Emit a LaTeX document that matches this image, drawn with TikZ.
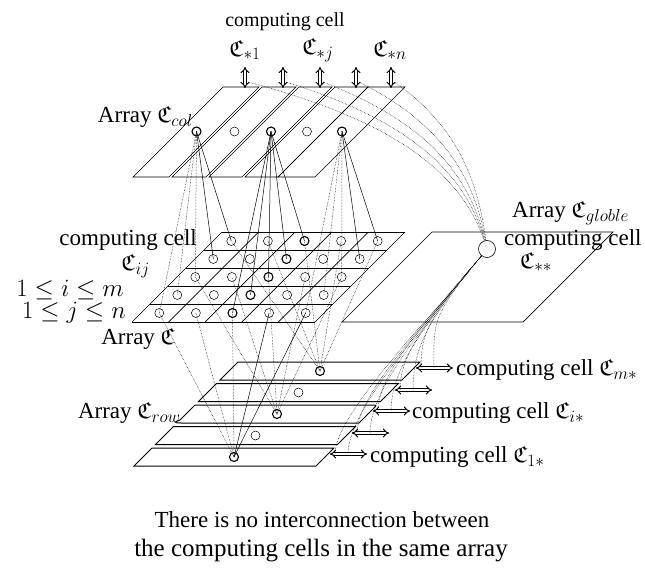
\documentclass[tikz,border=0pt]{standalone}
\usepackage{fontspec}
\setmainfont{Liberation Serif}
\usepackage{amssymb}
\usetikzlibrary{arrows.meta,calc}

\begin{document}
\begin{tikzpicture}[x=1pt,y=-1pt,
  lab/.style={inner sep=0pt, font=\fontsize{23}{25}\selectfont},
  toplab/.style={inner sep=0pt, font=\fontsize{20}{22}\selectfont},
  strip/.style={line width=0.7pt},
  rowstrip/.style={line width=1pt},
  cell/.style={circle, draw, line width=0.5pt, minimum size=9pt, inner sep=0pt},
  keycell/.style={cell, line width=1.1pt},
  bigcell/.style={circle, draw, line width=0.6pt, minimum size=17pt, inner sep=0pt},
  link/.style={line width=0.5pt},
  dlink/.style={line width=0.5pt, densely dotted},
  dualarrow/.style={double, double distance=2pt, line width=1pt, {Implies}-{Implies}},
]
\useasboundingbox (0,0) rectangle (645,569);

% ---------- column array: five slanted strips ----------
\foreach \l/\r in {223/259, 262/296, 299/332, 335/368, 368/405}
  \draw[strip] (\l,87) -- (\r,87) -- (\r-90,177) -- (\l-90,177) -- cycle;
\node[keycell] (col0) at (196.5,131.5) {};
\node[cell]    (col1) at (234.5,131.5) {};
\node[keycell] (col2) at (271,131.5) {};
\node[cell]    (col3) at (307,131.5) {};
\node[keycell] (col4) at (342,131.5) {};

% output arrows of the column cells
\foreach \j/\x in {0/245, 1/283, 2/320, 3/356, 4/391} {
  \coordinate (upa\j) at (\x,67);
  \coordinate (upb\j) at (\x,88);
  \draw[dualarrow] (upa\j) -- (upb\j);
}

% ---------- main array: 5 x 5 grid ----------
\foreach \r in {0,...,5}
  \draw[strip] (222-18*\r,232+18*\r) -- (405-18*\r,232+18*\r);
\foreach \c in {0,...,5}
  \draw[strip] (222+36.6*\c,232) -- (132+36.6*\c,322);
\foreach \c in {0,1,3,4}
  \foreach \r in {0,...,4}
    \node[cell] (g\c\r) at (231.3+36.6*\c-18*\r, 241+18*\r) {};
\foreach \r in {0,...,4}
  \node[keycell] (g2\r) at (231.3+73.2-18*\r, 241+18*\r) {};

% ---------- global array ----------
\draw[strip] (432,232) -- (613,232) -- (523,322) -- (342,322) -- cycle;
\node[bigcell] (glob) at (487,249) {};

% ---------- row array: five stacked strips ----------
\foreach \k in {0,1,3,4}
  \draw[rowstrip] (238-21.5*\k,362+21.5*\k) -- (420-21.5*\k,362+21.5*\k)
    -- (402-21.5*\k,380+21.5*\k) -- (220-21.5*\k,380+21.5*\k) -- cycle;
% the middle strip is drawn with curled corners
\draw[rowstrip] (195,405) -- (371,405) .. controls (377,405) and (377,405) .. (373,409)
  -- (359,423) -- (181,423) .. controls (174,423) and (174,422) .. (180,420) -- cycle;
\foreach \k in {1,3}
  \node[cell] (row\k) at (320-21.5*\k, 371+21.5*\k) {};
\foreach \k in {0,2,4}
  \node[keycell] (row\k) at (320-21.5*\k, 371+21.5*\k) {};

% output arrows of the row cells
\foreach \k/\x/\y in {0/416/368, 1/395/390, 2/373/411, 3/352/433, 4/330/454} {
  \coordinate (ra\k) at (\x,\y);
  \coordinate (rb\k) at (\x+37,\y);
  \coordinate (rm\k) at (\x+18,\y);
  \coordinate (rq\k) at (\x+5,\y);
  \draw[dualarrow] (ra\k) -- (rb\k);
}

% ---------- column cells to main array ----------
\foreach \r/\s in {0/link, 1/link, 2/dlink, 3/dlink, 4/dlink} {
  \draw[\s] (col0.center) -- (g0\r.center);
  \draw[\s] (col4.center) -- (g4\r.center);
  \draw[link] (col2.center) -- (g2\r.center);
}

% ---------- row cells to main array ----------
\foreach \c in {0,...,4} {
  \draw[dlink] (row0.center) -- (g\c0.center);
  \draw[dlink] (row2.center) -- (g\c2.center);
}
\foreach \c/\s in {0/dlink, 1/dlink, 2/dlink, 3/link, 4/link}
  \draw[\s] (row4.center) -- (g\c4.center);

% ---------- column cells to the global cell ----------
\foreach \j/\ax/\bx in {0/379/458, 1/397/463, 2/413/467, 3/429/472, 4/445/476}
  \draw[dlink] (upb\j) ++(3,-6) .. controls (\ax,117) and (\bx,164) .. (glob);

% ---------- global cell to row cells ----------
\foreach \k in {0,...,4} {
  \draw[dlink] (glob) .. controls (430,318) and ($(rm\k)+(0,-45)$) .. (rm\k);
  \draw[dlink] (glob) .. controls (432,316) and ($(rq\k)+(0,-40)$) .. (rq\k);
}

% ---------- labels ----------
\node[toplab] (tcc) at (285,22) {computing cell};
\node[lab] (t1) at (245,50) {$\mathfrak{C}_{*1}$};
\node[lab] (tj) at (318,50) {$\mathfrak{C}_{*j}$};
\node[lab] (tn) at (390,50) {$\mathfrak{C}_{*n}$};
\node[lab, anchor=east] (lcol) at (193,117) {Array $\mathfrak{C}_{col}$};
\node[lab, anchor=east] (lcc) at (197,240) {computing cell};
\node[lab, anchor=east] (lij) at (150,266) {$\mathfrak{C}_{ij}$};
\node[lab, anchor=east] (li) at (124,290) {$1\leq i\leq m$};
\node[lab, anchor=east] (lj) at (126,313) {$1\leq j\leq n$};
\node[lab, anchor=east] (larr) at (175,339) {Array $\mathfrak{C}$};
\node[lab, anchor=east] (lrow) at (181,413) {Array $\mathfrak{C}_{row}$};
\node[lab, anchor=west] (lglob) at (512,213) {Array $\mathfrak{C}_{globle}$};
\node[lab, anchor=west] (lgcc) at (504,240) {computing cell};
\node[lab, anchor=west] (lgc) at (520,262) {$\mathfrak{C}_{**}$};
\node[lab, anchor=west] (lm) at (456,370) {computing cell $\mathfrak{C}_{m*}$};
\node[lab, anchor=west] (lim) at (412,413) {computing cell $\mathfrak{C}_{i*}$};
\node[lab, anchor=west] (l1) at (370,457) {computing cell $\mathfrak{C}_{1*}$};
\node[inner sep=0pt, anchor=base, font=\fontsize{23}{25}\selectfont] (note1) at (322,527)
  {There is no interconnection between};
\node[inner sep=0pt, anchor=base, font=\fontsize{25}{27}\selectfont] (note2) at (321,556)
  {the computing cells in the same array};
\end{tikzpicture}
\end{document}
